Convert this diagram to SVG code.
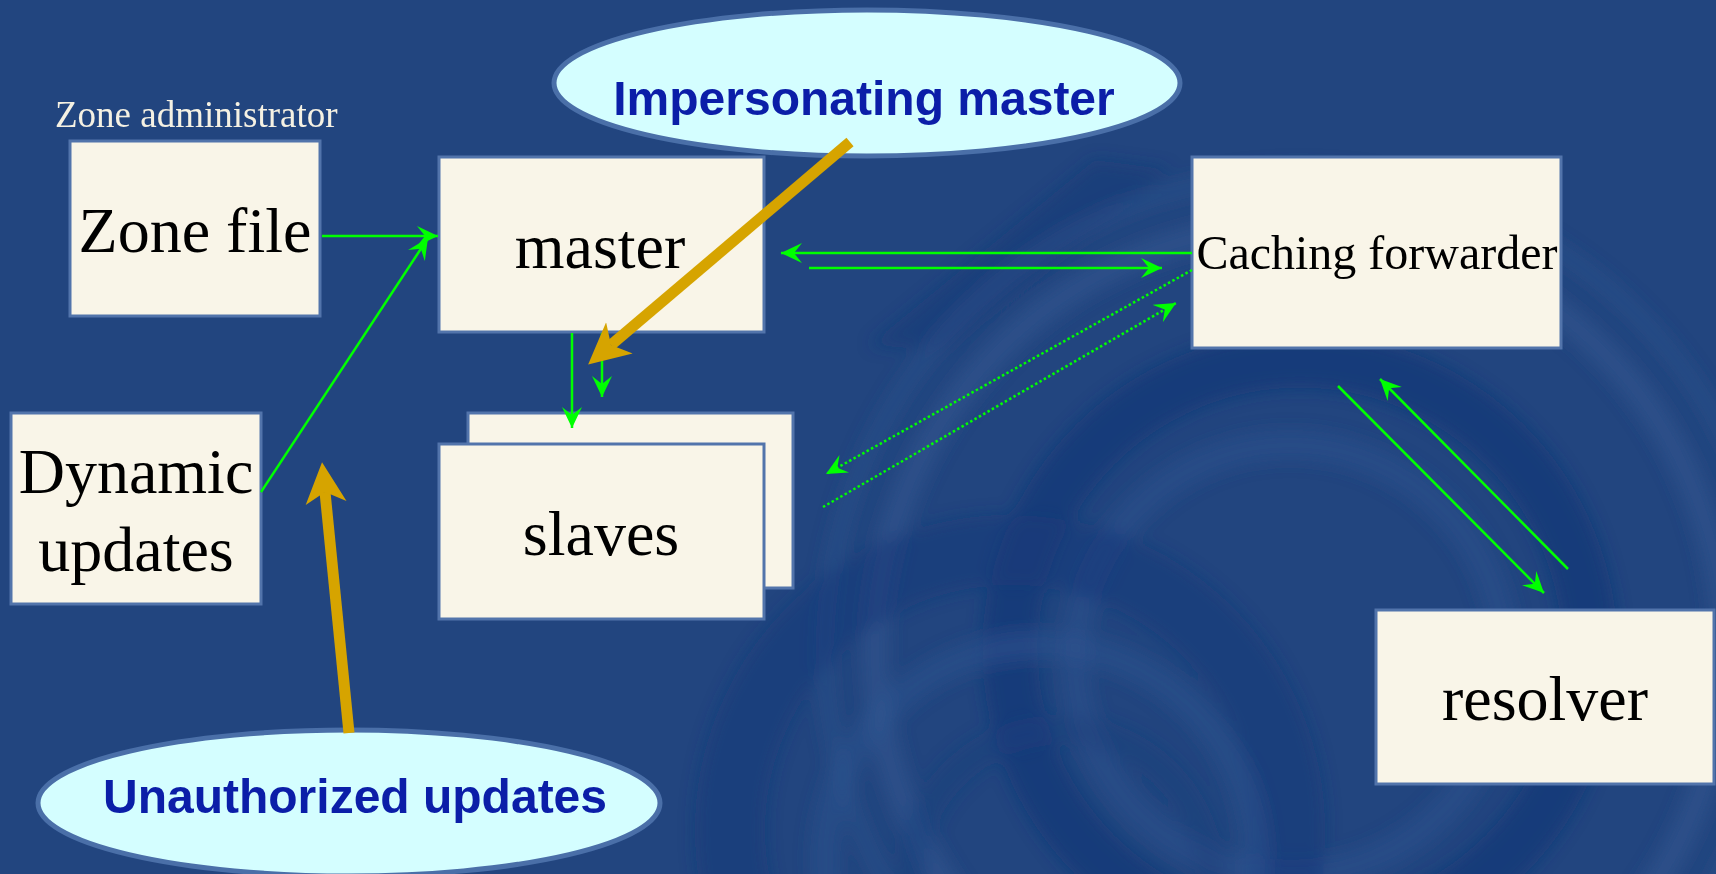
<svg xmlns="http://www.w3.org/2000/svg" width="1716" height="874" viewBox="0 0 1716 874">
  <style>
    .box { fill: #f9f5e8; stroke: #5274ab; stroke-width: 3; }
    .lbl { font-family: "Liberation Serif", "Times New Roman", serif; fill: #000; text-anchor: middle; }
    .big { font-size: 64px; }
    .bubble { fill: #d4feff; stroke: #4a6fa8; stroke-width: 5; }
    .threat { font-family: "Liberation Sans", Arial, sans-serif; font-weight: bold; font-size: 48px; fill: #0b1ea8; text-anchor: middle; }
    .flow { stroke: #00ff00; stroke-width: 2.5; fill: none; marker-end: url(#greenHead); }
    .dotted { stroke-dasharray: 2.5 2.5; }
    .attack { stroke: #d6a400; stroke-width: 11; fill: none; marker-end: url(#goldHead); }
  </style>
  <defs>
    <marker id="greenHead" viewBox="0 -11 22 22" refX="21" refY="0" markerWidth="22" markerHeight="22" markerUnits="userSpaceOnUse" orient="auto">
      <path d="M21,0 L0,-10 L8,0 L0,10 Z" fill="#00ff00"/>
    </marker>
    <marker id="goldHead" viewBox="0 -21 42 42" refX="11" refY="0" markerWidth="42" markerHeight="42" markerUnits="userSpaceOnUse" orient="auto">
      <path d="M41,0 L0,-20.5 L11,0 L0,20.5 Z" fill="#d6a400"/>
    </marker>
    <filter id="soft" x="-20%" y="-20%" width="140%" height="140%">
      <feGaussianBlur stdDeviation="8"/>
    </filter>
  </defs>

  <!-- backdrop: navy slide with soft swirl -->
  <rect width="1716" height="874" fill="#22457f"/>
  <g id="backdrop" filter="url(#soft)">
    <polygon points="870,345 945,350 1170,170 1095,160" fill="#163877" opacity="0.55"/>
    <circle cx="1300" cy="650" r="290" fill="none" stroke="#143878" stroke-width="55" opacity="0.7"/>
    <circle cx="1300" cy="650" r="425" fill="none" stroke="#31578f" stroke-width="28" opacity="0.6"/>
    <circle cx="1300" cy="650" r="475" fill="none" stroke="#2e538e" stroke-width="18" opacity="0.5"/>
    <circle cx="1290" cy="660" r="215" fill="none" stroke="#2c5290" stroke-width="30" opacity="0.45"/>
    <circle cx="1010" cy="830" r="280" fill="none" stroke="#15397a" stroke-width="70" opacity="0.55"/>
    <circle cx="1040" cy="860" r="215" fill="none" stroke="#2e538f" stroke-width="30" opacity="0.5"/>
    <circle cx="1060" cy="880" r="150" fill="none" stroke="#1a3d7c" stroke-width="30" opacity="0.45"/>
  </g>

  <text x="55" y="127" font-family="Liberation Serif, Times New Roman, serif" font-size="37" fill="#f5f1e3">Zone administrator</text>

  <g id="zone-file">
    <rect class="box" x="70" y="141" width="250" height="175"/>
    <text class="lbl big" x="195" y="252">Zone file</text>
  </g>

  <g id="master">
    <rect class="box" x="439" y="157" width="325" height="175"/>
    <text class="lbl big" x="600" y="268">master</text>
  </g>

  <g id="dynamic-updates">
    <rect class="box" x="11" y="413" width="250" height="191"/>
    <text class="lbl big" x="136" y="493">Dynamic</text>
    <text class="lbl big" x="136" y="571">updates</text>
  </g>

  <g id="slaves">
    <rect class="box" x="468" y="413" width="325" height="175"/>
    <rect class="box" x="439" y="444" width="325" height="175"/>
    <text class="lbl big" x="601" y="555">slaves</text>
  </g>

  <g id="caching-forwarder">
    <rect class="box" x="1192" y="157" width="369" height="191"/>
    <text class="lbl" font-size="48" x="1377" y="269">Caching forwarder</text>
  </g>

  <g id="resolver">
    <rect class="box" x="1376" y="610" width="338" height="174"/>
    <text class="lbl big" x="1545" y="720">resolver</text>
  </g>

  <g id="impersonating-master">
    <ellipse class="bubble" cx="867" cy="83" rx="313" ry="73"/>
    <text class="threat" x="864" y="115">Impersonating master</text>
  </g>

  <g id="unauthorized-updates">
    <ellipse class="bubble" cx="349" cy="803" rx="311" ry="73"/>
    <text class="threat" x="355" y="813">Unauthorized updates</text>
  </g>

  <g id="connectors">
    <line class="flow" x1="322" y1="236" x2="438" y2="236"/>
    <line class="flow" x1="261" y1="492" x2="428" y2="238"/>
    <line class="flow" x1="572" y1="333" x2="572" y2="428"/>
    <line class="flow" x1="602" y1="333" x2="602" y2="397"/>
    <line class="flow" x1="1192" y1="253" x2="781" y2="253"/>
    <line class="flow" x1="809" y1="268" x2="1162" y2="268"/>
    <line class="flow dotted" x1="1192" y1="270" x2="826" y2="474"/>
    <line class="flow dotted" x1="823" y1="507" x2="1176" y2="303"/>
    <line class="flow" x1="1338" y1="386" x2="1544" y2="593"/>
    <line class="flow" x1="1568" y1="569" x2="1380" y2="379"/>
    <line class="attack" x1="850" y1="142" x2="611" y2="345"/>
    <line class="attack" x1="349" y1="733" x2="325" y2="492"/>
  </g>
</svg>
